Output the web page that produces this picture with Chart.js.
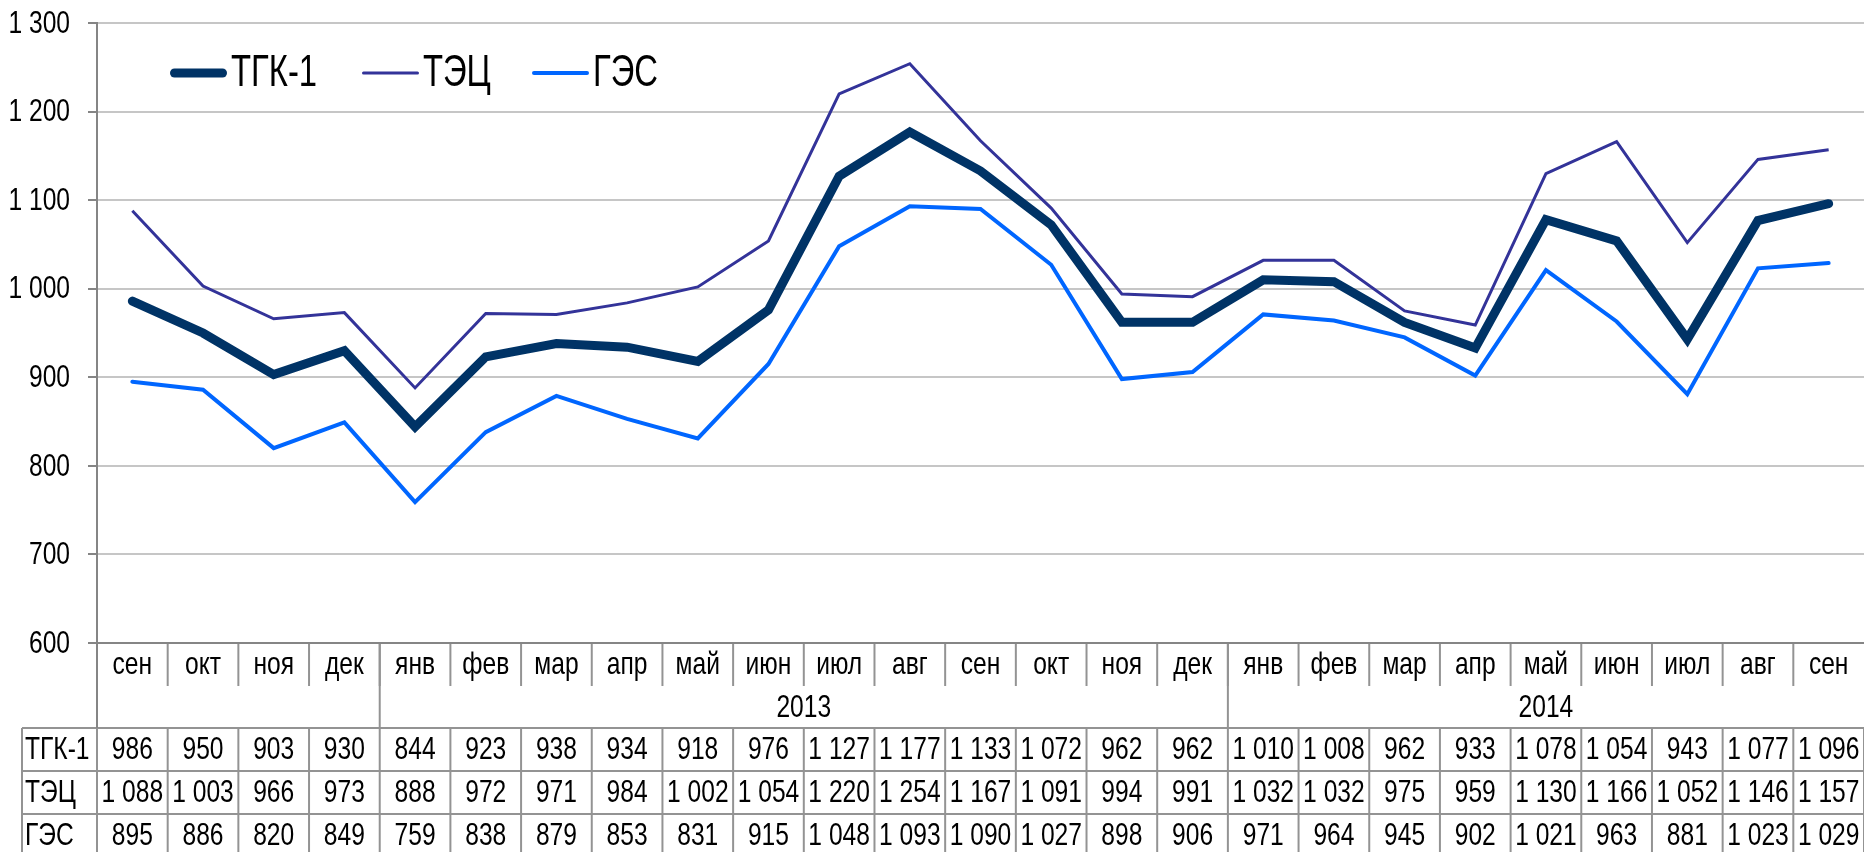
<!DOCTYPE html>
<html>
<head>
<meta charset="utf-8">
<script src="https://cdn.jsdelivr.net/npm/chart.js@4/dist/chart.umd.min.js"></script>
<style>
  html, body { margin: 0; padding: 0; background: #fff; }
  canvas { display: block; }
</style>
</head>
<body>
<canvas id="chart" width="1864" height="852"></canvas>
<script>
"use strict";
const months = ['сен', 'окт', 'ноя', 'дек', 'янв', 'фев', 'мар', 'апр', 'май', 'июн', 'июл', 'авг',
    'сен', 'окт', 'ноя', 'дек', 'янв', 'фев', 'мар', 'апр', 'май', 'июн', 'июл', 'авг', 'сен'];
const yearLabels = ['', '2013', '2014'];
const yearSpans = [4, 12, 9];
const seriesNames = ['ТГК-1', 'ТЭЦ', 'ГЭС'];
const tgkValues = [986, 950, 903, 930, 844, 923, 938, 934, 918, 976, 1127, 1177, 1133, 1072, 962, 962,
    1010, 1008, 962, 933, 1078, 1054, 943, 1077, 1096];
const tecValues = [1088, 1003, 966, 973, 888, 972, 971, 984, 1002, 1054, 1220, 1254, 1167, 1091, 994, 991,
    1032, 1032, 975, 959, 1130, 1166, 1052, 1146, 1157];
const gesValues = [895, 886, 820, 849, 759, 838, 879, 853, 831, 915, 1048, 1093, 1090, 1027, 898, 906,
    971, 964, 945, 902, 1021, 963, 881, 1023, 1029];
const yMin = 600;
const yMax = 1300;
const yStep = 100;

// no narrow face installed, so Liberation Sans gets squeezed by hand
const FONT = '"Liberation Sans", Arial, sans-serif';
const NARROW = 0.82;

function fmt(n) {
    return String(n).replace(/\B(?=(\d{3})+(?!\d))/g, ' ');
}

function narrowText(ctx, text, x, y, size, stretch) {
    ctx.save();
    ctx.translate(x, y);
    ctx.scale(NARROW, stretch);
    ctx.font = size + 'px ' + FONT;
    ctx.fillText(text, 0, 0);
    ctx.restore();
}

const yLabelsPlugin = {
    id: 'yLabels',
    afterDraw(chart) {
        let ctx = chart.ctx;
        let ys = chart.scales.y;
        ctx.save();
        ctx.fillStyle = '#000000';
        ctx.textAlign = 'right';
        ctx.textBaseline = 'middle';
        ys.ticks.forEach(t => {
            narrowText(ctx, fmt(t.value), 70, ys.getPixelForValue(t.value) + 1, 30, 1.06);
        });
        ctx.restore();
    }
};

const legendPlugin = {
    id: 'topLegend',
    afterDraw(chart) {
        let ctx = chart.ctx;
        let starts = [170, 362, 532];
        let y = 73;
        ctx.save();
        ctx.fillStyle = '#ffffff';
        ctx.fillRect(132, 38, 560, 66);
        chart.data.datasets.forEach((ds, i) => {
            ctx.beginPath();
            ctx.strokeStyle = ds.borderColor;
            ctx.lineWidth = ds.borderWidth;
            ctx.lineCap = 'round';
            ctx.moveTo(starts[i] + ds.borderWidth / 2, y);
            ctx.lineTo(starts[i] + 57 - ds.borderWidth / 2, y);
            ctx.stroke();
            ctx.fillStyle = '#000000';
            ctx.textAlign = 'left';
            ctx.textBaseline = 'middle';
            narrowText(ctx, ds.label, starts[i] + 61, y + 1, 40, 1.1);
        });
        ctx.restore();
    }
};

const tablePlugin = {
    id: 'dataTable',
    afterDraw(chart) {
        let ctx = chart.ctx;
        let xs = chart.scales.x;
        let area = chart.chartArea;
        let n = months.length;
        let colW = xs.getPixelForValue(1) - xs.getPixelForValue(0);
        let edge = i => xs.getPixelForValue(i) - colW / 2;
        let top = area.bottom;
        let catBottom = top + 43;
        let yearBottom = top + 85;
        let rowH = 43;
        let tableLeft = 22;
        let rightEdge = chart.width + 4;
        let bottom = chart.height + 4;
        let rows = [tgkValues, tecValues, gesValues];

        ctx.save();
        ctx.strokeStyle = '#939393';
        ctx.lineWidth = 2;
        let line = (x1, y1, x2, y2) => {
            ctx.beginPath();
            ctx.moveTo(x1, y1);
            ctx.lineTo(x2, y2);
            ctx.stroke();
        };
        // category row separators
        for (let i = 1; i < n; i++) {
            line(edge(i), top, edge(i), catBottom);
        }
        // year group separators
        let acc = 0;
        yearSpans.forEach(span => {
            line(edge(acc), top, edge(acc), yearBottom);
            acc += span;
        });
        // data rows grid
        for (let r = 0; r <= rows.length; r++) {
            line(tableLeft, yearBottom + r * rowH, rightEdge, yearBottom + r * rowH);
        }
        line(tableLeft, yearBottom, tableLeft, bottom);
        for (let i = 0; i <= n; i++) {
            line(edge(i), yearBottom, edge(i), bottom);
        }
        // axis line at the bottom of the plot
        ctx.strokeStyle = '#858585';
        line(area.left - 9, top, rightEdge, top);
        line(area.left, area.top, area.left, yearBottom);

        ctx.fillStyle = '#000000';
        ctx.textAlign = 'center';
        ctx.textBaseline = 'middle';
        months.forEach((m, i) => {
            narrowText(ctx, m, xs.getPixelForValue(i), top + 22, 30, 1.06);
        });
        acc = 0;
        yearSpans.forEach((span, k) => {
            let cx = (edge(acc) + edge(acc + span)) / 2;
            narrowText(ctx, yearLabels[k], cx, catBottom + 22, 30, 1.06);
            acc += span;
        });
        rows.forEach((vals, r) => {
            let cy = yearBottom + r * rowH + rowH / 2 + 1;
            ctx.textAlign = 'left';
            narrowText(ctx, seriesNames[r], tableLeft + 3, cy, 30, 1.06);
            ctx.textAlign = 'center';
            vals.forEach((v, i) => {
                narrowText(ctx, fmt(v), xs.getPixelForValue(i), cy, 30, 1.06);
            });
        });
        ctx.restore();
    }
};

let canvas = document.getElementById('chart');
let chart = new Chart(canvas.getContext('2d'), {
    type: 'line',
    data: {
        labels: months,
        datasets: [
            {
                label: seriesNames[0],
                data: tgkValues,
                borderColor: '#003366',
                borderWidth: 9,
                borderCapStyle: 'round',
                pointRadius: 0,
                tension: 0
            },
            {
                label: seriesNames[1],
                data: tecValues,
                borderColor: '#333399',
                borderWidth: 3,
                pointRadius: 0,
                tension: 0
            },
            {
                label: seriesNames[2],
                data: gesValues,
                borderColor: '#0066ff',
                borderWidth: 4,
                borderCapStyle: 'round',
                pointRadius: 0,
                tension: 0
            }
        ]
    },
    options: {
        responsive: false,
        animation: false,
        layout: {
            padding: { top: 23, bottom: 209, left: 0, right: -3 }
        },
        plugins: {
            legend: { display: false },
            tooltip: { enabled: false }
        },
        scales: {
            x: {
                display: false,
                offset: true
            },
            y: {
                min: yMin,
                max: yMax,
                afterFit(scale) { scale.width = 97; },
                border: { color: '#858585', width: 2 },
                grid: {
                    color: '#c6c6c6',
                    lineWidth: 2,
                    tickColor: '#858585',
                    tickLength: 9
                },
                ticks: {
                    stepSize: yStep,
                    display: false
                }
            }
        }
    },
    plugins: [yLabelsPlugin, legendPlugin, tablePlugin]
});
</script>
</body>
</html>
